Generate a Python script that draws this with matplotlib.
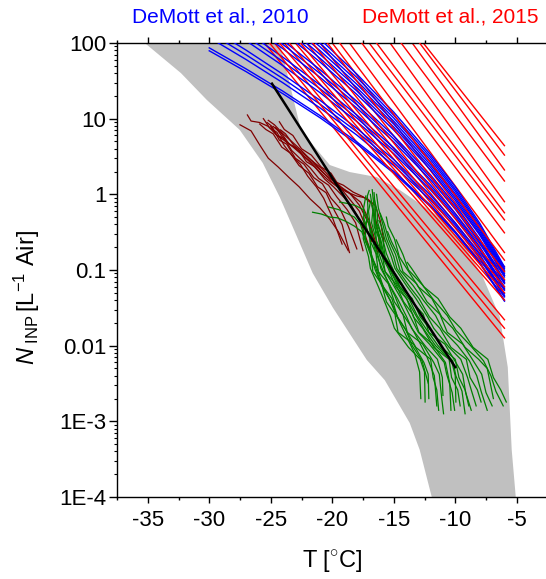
import matplotlib
matplotlib.use("Agg")
import matplotlib.pyplot as plt
import matplotlib.ticker as ticker

plt.rcParams['font.family'] = ['Liberation Sans', 'DejaVu Sans']
plt.rcParams['axes.unicode_minus'] = False
plt.rcParams['mathtext.fontset'] = 'custom'
plt.rcParams['mathtext.rm'] = 'Liberation Sans'
plt.rcParams['mathtext.it'] = 'Liberation Sans:italic'

# grey envelope (T in degC, N in L-1)
band_T = [-35.24, -24.27, -22.8, -22.5, -20.2, -18.58, -16.38, -14.51, -11.26, -9.39,
          -7.76, -6.38, -5.73, -5.41, -5.08,
          -11.91, -12.89, -13.70, -15.73, -17.2, -19.96, -21.59, -23.21, -24.27,
          -25.65, -27.52, -30.2, -32.3]
band_N = [100, 100, 10.5, 6.8, 2.44, 1.97, 1.69, 1.14, 0.50, 0.23,
          0.081, 0.024, 0.0052, 0.00042, 0.0001,
          0.0001, 0.00042, 0.00095, 0.0035, 0.0065, 0.032, 0.091, 0.37, 0.92,
          2.6, 7.1, 17.7, 40]

# DeMott et al. 2010 curves
blue_T = [-30, -27, -24, -21, -18, -15, -12, -10, -8, -6]
blue_N = [
    [86.3, 45.4, 23.0, 11.0, 4.93, 2.01, 0.716, 0.321, 0.126, 0.040],
    [78.9, 41.8, 21.3, 10.3, 4.65, 1.91, 0.684, 0.309, 0.122, 0.0387],
    [118, 60.4, 29.7, 13.9, 6.07, 2.40, 0.836, 0.368, 0.142, 0.0441],
    [138, 69.7, 33.8, 15.6, 6.72, 2.63, 0.903, 0.394, 0.150, 0.0463],
    [161, 80.4, 38.5, 17.5, 7.45, 2.88, 0.975, 0.422, 0.160, 0.0488],
    [220, 107, 49.9, 22.1, 9.16, 3.45, 1.14, 0.484, 0.180, 0.054],
    [257, 123, 56.8, 24.9, 10.2, 3.78, 1.23, 0.518, 0.191, 0.0568],
    [300, 142, 64.7, 27.9, 11.2, 4.13, 1.32, 0.555, 0.202, 0.0597],
    [409, 189, 83.8, 35.2, 13.8, 4.94, 1.55, 0.635, 0.228, 0.0661],
    [478, 218, 95.3, 39.6, 15.3, 5.41, 1.67, 0.680, 0.242, 0.0695],
    [558, 251, 108, 44.5, 17.0, 5.92, 1.80, 0.728, 0.257, 0.0731],
    [762, 334, 141, 56.1, 20.9, 7.08, 2.10, 0.834, 0.289, 0.0809],
    [891, 385, 160, 63.0, 23.2, 7.75, 2.27, 0.893, 0.307, 0.0851],
    [1042, 444, 182, 70.8, 25.7, 8.49, 2.45, 0.957, 0.326, 0.0895],
    [1218, 512, 207, 79.5, 28.5, 9.29, 2.65, 1.02, 0.345, 0.0942],
    [1422, 590, 236, 89.3, 31.6, 10.2, 2.86, 1.10, 0.366, 0.0991],
    [1662, 681, 269, 100, 35.0, 11.1, 3.09, 1.17, 0.389, 0.104],
    [1941, 785, 305, 113, 38.8, 12.2, 3.33, 1.26, 0.413, 0.110],
]

# DeMott et al. 2015 lines: T where they leave the top (N=100) and N at -6 degC
red_top_T = [-25.5, -25.1, -24.7, -24.3, -23.9, -23.5, -23.0, -22.6, -22.1, -21.6, -21.0,
             -20.4, -20.0, -19.4, -18.6, -17.6, -17.0, -16.4, -15.3, -14.4, -13.5, -12.9, -12.6]
red_end_N = [0.0127, 0.017, 0.022, 0.04, 0.045, 0.05, 0.055, 0.06, 0.068, 0.075, 0.085,
             0.095, 0.11, 0.135, 0.17, 0.31, 0.46, 0.57, 0.8, 1.5, 2.1, 3.3, 4.4]
red_end_T = -6.0

# dark red spectra
darkred_T = [
    [-27.5, -26.6, -25.9, -25.2, -24.4, -23.5, -22.7, -21.8, -21.0, -20.2, -19.5, -18.7],
    [-26.9, -26.6, -25.9, -25.2, -24.5, -23.6, -22.6, -21.9, -21.2, -20.4, -19.6, -18.8,
     -18.0, -17.2, -16.5, -16.1, -15.8],
    [-25.9, -25.4, -24.8, -24.1, -23.4, -22.7, -21.9, -21.2, -20.5, -19.8, -19.2, -18.6],
    [-25.3, -24.9, -24.3, -23.7, -23.0, -22.3, -21.5, -20.8, -20.1, -19.4, -18.7, -18.0],
    [-25.0, -24.5, -23.9, -23.3, -22.6, -21.8, -21.1, -20.3, -19.6, -18.8, -18.1, -17.5],
    [-24.6, -24.1, -23.5, -22.8, -22.1, -21.4, -20.6, -19.9, -19.1, -18.4, -17.7, -17.0],
    [-24.3, -23.9, -23.2, -22.5, -21.7, -20.9, -20.1, -19.4, -18.6, -17.8, -17.0, -16.3],
    [-25.6, -25.1, -24.5, -23.9, -23.3, -22.6, -22.0, -21.3, -20.7, -20.0, -19.2],
    [-24.8, -24.4, -23.8, -23.1, -22.3, -21.5, -20.7, -19.9, -19.1, -18.3, -17.5, -16.8,
     -16.4, -16.1],
    [-24.2, -23.8, -23.1, -22.4, -21.6, -20.8, -20.0, -19.3, -18.5, -17.8, -17.2, -16.8],
    [-25.2, -24.7, -24.0, -23.3, -22.5, -21.7, -20.9, -20.1, -19.3, -18.5, -17.7, -17.0,
     -16.4],
]
darkred_N = [
    [8.3, 6.9, 4.5, 3.0, 2.3, 1.66, 1.26, 0.87, 0.66, 0.47, 0.32, 0.18],
    [11.2, 9.3, 8.9, 7.9, 6.0, 4.8, 3.5, 2.75, 2.1, 1.58, 1.26, 1.07, 0.95, 0.89, 0.71,
     0.45, 0.24],
    [8.5, 7.2, 6.3, 4.2, 3.5, 2.4, 1.9, 1.26, 1.05, 0.60, 0.40, 0.17],
    [8.9, 7.9, 5.2, 4.6, 3.0, 2.5, 1.66, 1.38, 0.89, 0.66, 0.38, 0.19],
    [7.9, 6.0, 5.5, 3.8, 2.95, 2.24, 1.62, 1.32, 0.91, 0.63, 0.42, 0.18],
    [7.6, 6.3, 4.6, 4.0, 2.7, 2.3, 1.58, 1.26, 0.93, 0.69, 0.44, 0.20],
    [9.1, 7.2, 6.0, 4.0, 3.3, 2.3, 1.9, 1.26, 1.05, 0.72, 0.40, 0.17],
    [10, 7.6, 6.6, 4.4, 3.3, 2.5, 1.74, 1.26, 0.89, 0.50, 0.22],
    [7.9, 6.9, 5.0, 4.2, 3.2, 2.5, 1.9, 1.5, 1.32, 1.07, 0.93, 0.76, 0.42, 0.19],
    [7.1, 6.3, 4.4, 3.5, 2.75, 2.0, 1.45, 1.2, 0.83, 0.60, 0.35, 0.24],
    [9.5, 8.3, 6.3, 5.0, 3.8, 2.8, 2.24, 1.66, 1.26, 1.0, 0.79, 0.45, 0.21],
]

# green spectra
green_T = [
    [-17.27, -17.45, -17.42, -17.48, -17.05, -16.9, -16.25, -15.85, -15.25, -14.95, -13.8, -12.85, -12.5, -12.45],
    [-17.5, -17.3, -17.3, -16.85, -16.7, -16.0, -15.6, -14.9, -14.65, -13.4, -12.55, -12.2, -12.15],
    [-17.0, -17.15, -17.1, -17.25, -16.95, -16.8, -16.35, -15.85, -15.15, -14.7, -14.1, -13.2, -12.0, -11.8, -11.5, -11.35],
    [-16.9, -17.05, -16.95, -16.9, -16.45, -16.25, -15.45, -14.95, -14.25, -13.9, -12.65, -11.75, -11.3, -11.15, -10.95],
    [-16.8, -16.7, -16.25, -16.05, -15.25, -14.7, -13.95, -13.55, -12.35, -11.45, -11.05, -11.0],
    [-16.9, -16.7, -16.8, -16.4, -16.2, -15.7, -15.1, -14.25, -13.75, -13.0, -12.1, -10.9, -10.7, -10.25, -10.05],
    [-16.75, -16.6, -16.6, -16.2, -15.95, -15.45, -14.85, -13.95, -13.4, -12.65, -11.75, -10.5, -10.3, -9.8, -9.6],
    [-16.5, -16.45, -16.05, -15.8, -15.25, -14.6, -13.7, -13.1, -12.3, -11.4, -10.2, -9.95, -9.45, -9.2],
    [-16.6, -16.35, -16.3, -15.85, -15.6, -15.0, -14.35, -13.5, -12.6, -12.15, -10.85, -9.95, -9.4, -9.15, -8.7],
    [-16.2, -16.0, -15.75, -15.2, -14.9, -13.9, -13.2, -12.25, -11.75, -10.5, -9.55, -9.0, -8.7, -8.3],
    [-16.4, -16.25, -15.85, -15.6, -15.0, -14.75, -13.7, -12.95, -12.1, -11.25, -10.35, -9.1, -8.8, -8.2, -7.9],
    [-16.1, -15.75, -15.4, -14.85, -14.5, -13.45, -12.6, -11.6, -11.0, -9.8, -8.85, -8.25, -7.9, -7.4],
    [-15.5, -15.2, -14.7, -14.25, -13.15, -12.3, -11.25, -10.65, -9.4, -8.45, -7.85, -7.5, -7.0],
    [-15.6, -15.45, -14.95, -14.55, -13.95, -13.0, -11.9, -11.1, -10.2, -9.2, -8.1, -7.4, -6.9],
    [-14.8, -14.25, -13.8, -12.65, -11.75, -10.65, -9.95, -8.75, -7.7, -7.1, -6.7, -6.1],
    [-13.9, -13.55, -12.55, -11.4, -10.45, -9.55, -8.55, -7.35, -6.9, -6.3, -5.85],
    [-16.75, -16.55, -16.4, -15.95, -15.7, -14.85, -14.2, -13.45, -12.95, -11.85, -10.8, -10.45, -10.35],
    [-16.35, -15.9, -15.7, -15.1, -14.5, -13.5, -12.85, -12.1, -11.1, -10.0, -9.7, -9.2, -8.9],
    [-16.6, -16.5, -16.5, -16.1, -15.9, -15.3, -14.7, -13.9, -13.2, -12.5, -11.6, -10.3, -10.0, -9.95],
    [-21.6, -20.9, -20.2, -19.6, -18.9, -18.2, -17.6, -17.2, -16.9, -16.5, -16.0, -15.3, -14.8, -14.0, -13.5, -12.7, -12.2],
    [-19.4, -18.8, -18.1, -17.5, -17.1, -16.8, -16.5, -16.0, -15.5, -14.9, -14.4, -13.6, -12.9, -12.3, -11.7, -11.5],
    [-20.3, -19.5, -18.8, -18.2, -17.7, -17.4, -17.0, -16.6, -16.2, -15.6, -15.0, -14.5, -13.9, -13.3, -12.9, -12.8],
]
green_N = [
    [0.95, 0.66, 0.38, 0.26, 0.15, 0.105, 0.06, 0.042, 0.024, 0.017, 0.0095, 0.0066, 0.0045, 0.0018],
    [0.5, 0.42, 0.24, 0.17, 0.095, 0.066, 0.038, 0.026, 0.015, 0.0105, 0.006, 0.0042, 0.002],
    [1.12, 0.95, 0.66, 0.38, 0.26, 0.15, 0.105, 0.06, 0.042, 0.024, 0.017, 0.0095, 0.0066, 0.0038, 0.0026, 0.0014],
    [0.79, 0.6, 0.42, 0.24, 0.165, 0.095, 0.066, 0.038, 0.026, 0.015, 0.0105, 0.006, 0.0042, 0.0024, 0.00126],
    [0.35, 0.26, 0.15, 0.105, 0.06, 0.042, 0.024, 0.017, 0.0095, 0.0066, 0.0038, 0.0022],
    [1.0, 0.6, 0.42, 0.24, 0.165, 0.095, 0.066, 0.038, 0.026, 0.015, 0.0105, 0.006, 0.0042, 0.0024, 0.0014],
    [1.15, 0.66, 0.38, 0.26, 0.15, 0.105, 0.06, 0.042, 0.024, 0.017, 0.0095, 0.0066, 0.0038, 0.0026, 0.0016],
    [0.63, 0.4, 0.25, 0.16, 0.1, 0.063, 0.04, 0.025, 0.016, 0.01, 0.0063, 0.004, 0.0025, 0.00126],
    [0.89, 0.6, 0.42, 0.24, 0.165, 0.095, 0.066, 0.038, 0.026, 0.015, 0.0105, 0.006, 0.0042, 0.0024, 0.0014],
    [0.45, 0.38, 0.26, 0.15, 0.105, 0.06, 0.042, 0.024, 0.017, 0.0095, 0.0066, 0.0038, 0.0026, 0.0016],
    [1.0, 0.66, 0.38, 0.26, 0.15, 0.105, 0.06, 0.042, 0.024, 0.017, 0.0095, 0.0066, 0.0038, 0.0026, 0.0018],
    [0.56, 0.4, 0.25, 0.16, 0.1, 0.063, 0.04, 0.025, 0.016, 0.01, 0.0063, 0.004, 0.0025, 0.0014],
    [0.32, 0.24, 0.165, 0.095, 0.066, 0.038, 0.026, 0.015, 0.0105, 0.006, 0.0042, 0.0024, 0.0016],
    [0.5, 0.38, 0.26, 0.15, 0.105, 0.06, 0.042, 0.024, 0.017, 0.0095, 0.0066, 0.005, 0.002],
    [0.25, 0.16, 0.1, 0.063, 0.04, 0.025, 0.016, 0.01, 0.0063, 0.004, 0.0025, 0.0016],
    [0.126, 0.105, 0.06, 0.042, 0.024, 0.017, 0.0095, 0.0066, 0.0038, 0.0026, 0.0018],
    [0.71, 0.42, 0.24, 0.165, 0.095, 0.066, 0.038, 0.026, 0.015, 0.0105, 0.006, 0.0032, 0.0014],
    [0.4, 0.26, 0.15, 0.105, 0.06, 0.042, 0.024, 0.017, 0.0095, 0.0066, 0.0038, 0.0026, 0.0016],
    [1.05, 0.63, 0.4, 0.25, 0.16, 0.1, 0.063, 0.04, 0.025, 0.016, 0.01, 0.0063, 0.004, 0.0018],
    [0.58, 0.55, 0.5, 0.49, 0.44, 0.38, 0.32, 0.22, 0.16, 0.10, 0.063, 0.04, 0.025, 0.016, 0.01, 0.0063, 0.0032],
    [0.79, 0.76, 0.71, 0.63, 0.45, 0.28, 0.18, 0.11, 0.071, 0.045, 0.028, 0.018, 0.011, 0.0071, 0.004, 0.0016],
    [0.68, 0.63, 0.56, 0.5, 0.4, 0.28, 0.2, 0.126, 0.079, 0.05, 0.032, 0.02, 0.0126, 0.0079, 0.0045, 0.002],
]

# black fit line
fit_T = [-24.9, -20.0, -10.0]
fit_N = [29.0, 1.65, 0.0052]

x_ticks = [-35, -30, -25, -20, -15, -10, -5]
y_ticks = [1e-4, 1e-3, 1e-2, 1e-1, 1, 10, 100]
y_labels = ['1E-4', '1E-3', '0.01', '0.1', '1', '10', '100']


def draw(ax):
    ax.fill(band_T, band_N, color='#c0c0c0', lw=0, zorder=1)

    for row in blue_N:
        ax.plot(blue_T, row, color='#0000ff', lw=1.0, zorder=3)

    # red and blue lines are interleaved in the original drawing
    for i, (top_T, end_N) in enumerate(zip(red_top_T, red_end_N)):
        z = 2 if i % 2 == 0 else 3.5
        ax.plot([top_T, red_end_T], [100, end_N], color='#ff0000', lw=1.0, zorder=z)

    for t, n in zip(darkred_T, darkred_N):
        ax.plot(t, n, color='#800000', lw=0.9, zorder=4)

    for t, n in zip(green_T, green_N):
        ax.plot(t, n, color='#008000', lw=0.9, zorder=5)

    ax.plot(fit_T, fit_N, color='black', lw=1.8, zorder=6)


def style(ax):
    ax.set_yscale('log')
    ax.set_xlim(-37.5, -2.5)
    ax.set_ylim(1e-4, 100)

    ax.xaxis.set_major_locator(ticker.FixedLocator(x_ticks))
    ax.xaxis.set_minor_locator(ticker.MultipleLocator(2.5))
    ax.yaxis.set_major_locator(ticker.FixedLocator(y_ticks))
    ax.yaxis.set_major_formatter(ticker.FixedFormatter(y_labels))
    ax.yaxis.set_minor_locator(ticker.LogLocator(base=10, subs=range(2, 10), numticks=20))
    ax.yaxis.set_minor_formatter(ticker.NullFormatter())

    ax.tick_params(axis='x', which='major', direction='out', length=4.5, width=1.0,
                   labelsize=16, pad=5, top=True)
    ax.tick_params(axis='x', which='minor', direction='out', length=2.5, width=1.0, top=True)
    ax.tick_params(axis='y', which='major', direction='out', length=5.5, width=1.0,
                   labelsize=16, pad=2)
    ax.tick_params(axis='y', which='minor', direction='out', length=2.5, width=0.8)
    for side in ['left', 'bottom', 'top', 'right']:
        ax.spines[side].set_linewidth(1.0)

    ax.set_xlabel(r'T [$^{\circ}$C]', fontsize=17, labelpad=12)
    ax.set_ylabel(r'$N_{\ \mathrm{INP}}\,[\mathrm{L}^{-1}\ \mathrm{Air}]$', fontsize=17)
    ax.yaxis.set_label_coords(-0.175, 0.44)


fig = plt.figure(figsize=(5.46, 5.79), dpi=100)
ax = fig.add_axes([117 / 546, 82 / 579, 430.5 / 546, 454 / 579])
draw(ax)
style(ax)

fig.text(220 / 546, 1 - 17 / 579, 'DeMott et al., 2010', color='#0000ff',
         fontsize=15, ha='center', va='center')
fig.text(450 / 546, 1 - 17 / 579, 'DeMott et al., 2015', color='#ff0000',
         fontsize=15, ha='center', va='center')

plt.savefig('out.png', dpi=100)
